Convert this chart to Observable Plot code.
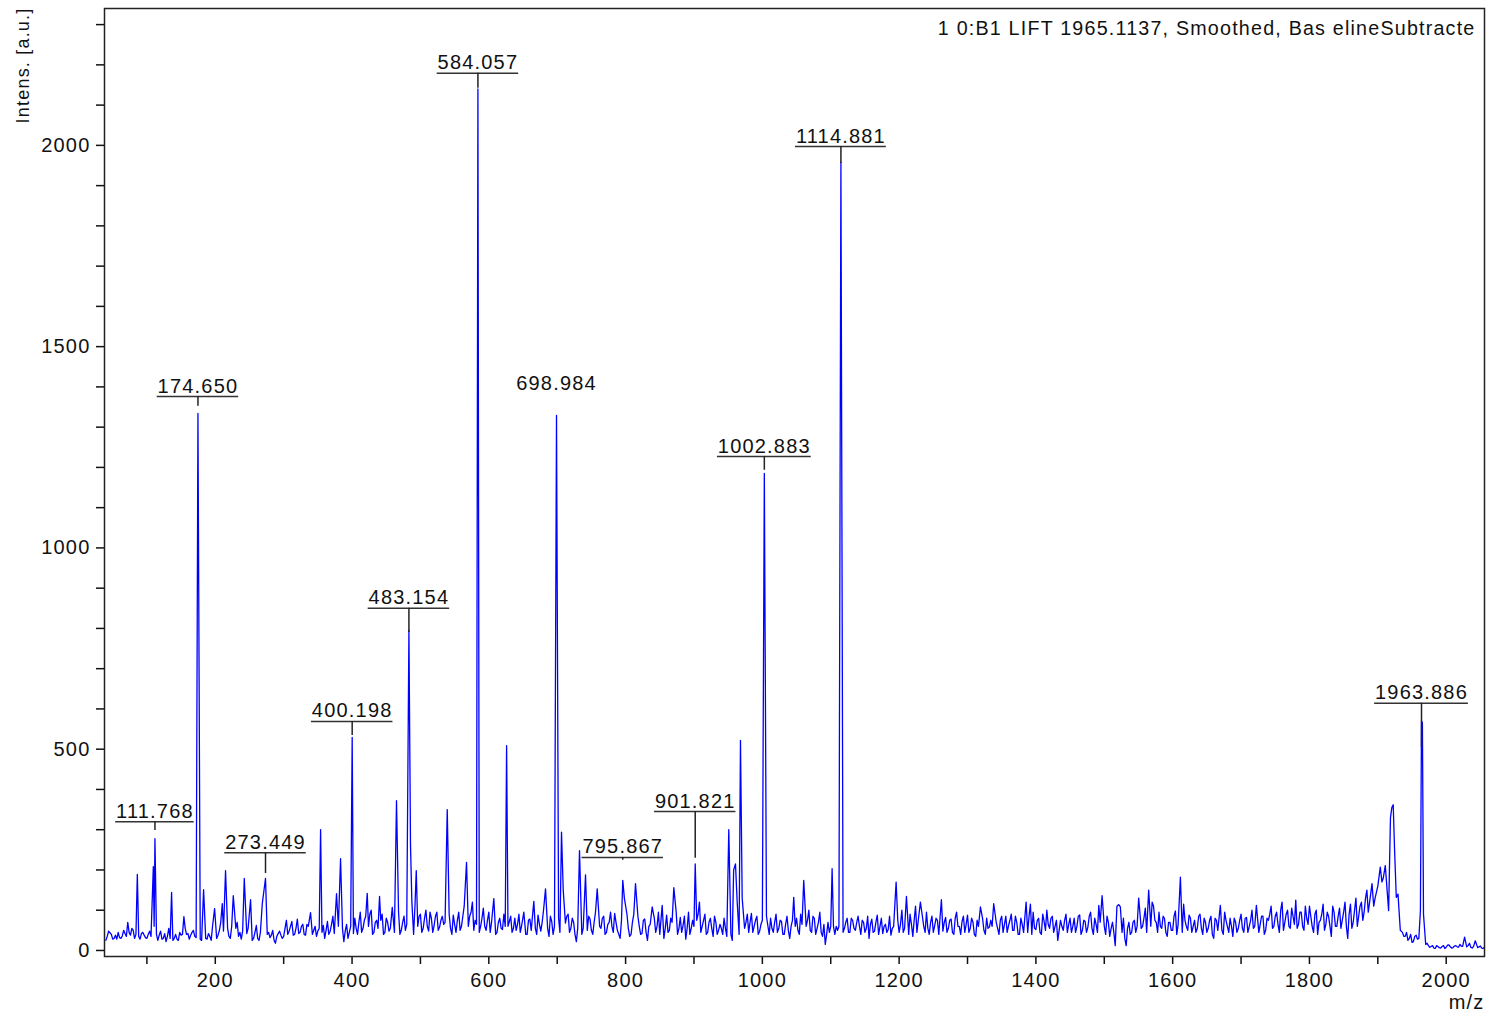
<!DOCTYPE html>
<html><head><meta charset="utf-8">
<script src="https://cdn.jsdelivr.net/npm/d3@7"></script>
<script src="https://cdn.jsdelivr.net/npm/@observablehq/plot@0.6"></script>
<style>body{margin:0;background:#fff;}</style>
</head><body><div id="chart"></div>
<script>
// ---- data ----
const titleText = "1 0:B1 LIFT 1965.1137, Smoothed, Bas elineSubtracte";
const yLabel = "Intens. [a.u.]";
const xLabel = "m/z";
const xDomain = [38, 2056];
const yDomain = [-15, 2340];
const xTicks = d3.range(100, 2001, 100);
const yTicks = d3.range(0, 2301, 100);

// baseline noise, read every 4 m/z starting at 40 ...
const baselineStartA = 40, baselineStep = 4;
const baselineA = [
 25,48,40,30,28,32,36,42,70,38,50,40,35,42,38,30,48,52,45,25,48,30,22,55,40,
 30,28,45,40,55,42,38,50,32,30,25,40,28,35,60,45,38,70,48,45,35,60,40,70,45,
 48,35,55,40,30,62,25,40,45,40,32,50,18,42,38,35,75,48,72,40,78,45,65,38,60,
 70,50,35,55,45,30,72,48,85,55,60,40,22,65,45,50,80,40,95,55,85,60,100,45,75,
 60,90,45,70,55,80,60,95,50,85,65,70,75,110,60,90,55,100,48,80,62,95,58,85,70,
 70,55,88,45,95,60,110,80,85,120,75,60,60,105,50,95,70,65,45,80,52,60,60,85,55,
 50,90,62,70,40,78,60,55,88,48,100,70,35,72,60,60,45,70,68,90,55,70,22,60,40,
 60,50,78,40,95,70,55,85,45,70,60,92,50,30,60,75,55,40,90,70,60,42,78,25,65,
 60,45,95,60,30,88,50,70,70,40,82,62,28,95,55,60,75,120,60,90,45,80,35,70,50,
 55,80,35,60,25,60,60,60,60,70,45,92,60,85,48,75,60,62,80,45,90,55,72,40,85,
 30,75,60,50,90,60,60,100,45,80,55,95,35,15,70,60,60,60,60,60,55,80,45,75,50,
 85,40,70,55,30,78,48,88,60,42,65,52,38,60,60,45,100,55,60,90,35,110,75,60,60,
 95,40,85,62,75,60,48,82,55,78,40,95,60,72,45,88,55,70,35,60,60,50,80,58,60,
 95,55,75,45,85,62,90,50,70,40,65,60,45,60,95,52,80,40,72,100,55,85,60,25,75,
 50,90,65,45,80,60,88,50,72,58,95,40,65,112,60,60,85,35,70,12,60,60,80,12,70,
 45,75,60,60,60,105,60,60,110,70,95,55,80,35,70,50,98,65,60,115,60,88,45,75,55,
 90,40,70,55,85,30,75,60,50,95,60,80,35,70,55,90,45,82,60,100,60,60,65,85,50,
 75,110,60,95,45,120,70,100,55,85,125,65,95,50,80,110,60,90,40,75,115,65,85,35,95,
 60,105,75,120,30,115,70,130,85,120,95,150,120,150,130,160,190,180,200,100,300,250,140,60,45,
 35,25,40,22,38,30,100,90,18,8,12,5,10,6,12,8,14,6,11,9,15,10,20,12,8,
 10,18,9,6,8
];
// ... and in between, every 4 m/z starting at 42
const baselineStartB = 42;
const baselineB = [
 35,44,28,38,45,30,50,35,45,55,30,38,28,45,32,40,35,30,40,38,28,42,35,30,25,
 40,25,38,30,40,28,45,35,40,28,35,30,42,25,38,30,50,35,40,55,30,42,55,35,28,
 30,42,35,25,45,30,45,28,30,45,38,25,35,48,30,55,40,60,38,55,42,60,40,65,45,
 40,60,48,35,62,50,40,65,42,70,35,55,48,30,60,42,55,70,45,75,50,90,40,70,55,
 75,40,80,48,90,45,75,40,70,50,85,60,40,70,85,45,80,60,95,45,85,50,75,65,45,
 90,40,65,75,50,85,45,60,95,50,65,45,80,60,75,45,90,40,70,55,90,40,72,45,80,
 65,45,80,40,75,50,85,40,65,70,45,55,85,40,50,80,60,40,85,45,80,40,55,75,55,
 40,85,50,70,45,60,80,40,65,95,45,70,40,75,45,90,35,70,50,85,40,75,45,60,40,
 80,60,40,75,55,45,80,40,95,55,45,85,55,40,75,40,90,45,75,40,70,55,85,40,65,
 40,55,65,40,60,45,40,40,55,90,70,45,75,40,65,45,85,40,55,70,45,75,40,65,50,
 60,45,80,40,65,45,75,50,85,40,70,45,65,40,45,85,40,50,75,45,70,45,80,55,70,
 60,75,45,85,65,45,70,40,80,60,45,85,55,40,75,65,45,80,40,65,75,45,40,85,45,
 55,70,45,80,40,85,70,45,75,45,80,60,40,85,65,45,80,40,75,45,80,40,55,75,45,
 70,40,85,65,45,75,50,85,40,80,45,75,85,40,55,75,45,90,50,65,80,45,75,50,60,
 75,45,80,60,45,85,40,75,45,85,55,80,45,70,85,40,70,55,45,40,75,45,30,55,40,
 70,45,85,55,80,45,85,50,75,45,60,85,45,70,50,85,40,80,45,75,50,80,60,45,85,
 55,80,45,75,40,80,50,85,40,75,45,60,80,45,75,55,80,45,75,55,80,45,85,40,80,
 90,55,85,65,100,50,90,60,105,65,55,95,60,110,65,85,45,100,70,90,50,95,60,110,60,
 85,55,95,60,90,55,100,60,110,75,130,95,140,110,145,120,170,150,130,180,260,200,100,45,35,
 45,30,20,35,28,45,40,15,12,10,6,12,7,10,5,13,9,7,12,8,11,14,9,18,6,
 12,7,11,5
];

// peaks (m/z, intensity)
const peakMz = [
 86.0,109.4,110.6,111.768,136.1,154.1,174.65,182.9,199,210.2,215,226.3,242.4,251.6,268.7,273.449,
 339.3,354,377.3,383.2,400.198,422.2,440.2,458.8,465,483.154,485.5,487.5,493.9,539.2,567.4,584.057,
 607.3,626,651.2,665.8,682.9,698.984,706.3,708.8,732.6,741.4,758.5,795.867,798.2,814.5,838.9,853.5,
 870.5,901.821,950.9,958,960.7,963.2,968,970.5,1002.883,1045.9,1060.5,1102,1114.881,1195.6,1210.7,
 1231.1,1261.8,1318.9,1338.3,1385.7,1392,1496.8,1518.5,1521.1,1523.5,1550.3,1564.9,1570,1611.3,
 1669.7,1722.4,1891.5,1903.6,1910.9,1915.8,1918.5,1920.5,1922.5,1924.5,1927,1929.5,1932.9,
 1962.3,1963.886,1965.2,1966.8,2026.9,2042.5
];
const peakIntensity = [
 189,208,60,278,144,84,1334,151,104,116,198,136,179,126,116,179,
 94,300,141,228,529,142,134,107,372,795,260,120,198,350,219,2140,
 129,509,95,122,153,1329,294,150,248,188,153,174,130,166,108,112,
 156,215,300,200,215,120,522,130,1185,132,174,203,1958,170,134,
 120,126,108,116,120,115,136,110,114,108,130,150,120,182,
 112,112,166,207,211,99,330,355,362,250,132,140,50,
 100,571,565,90,33,24
];

// peak annotations
const labelMz = [111.768,174.650,273.449,400.198,483.154,584.057,698.984,795.867,901.821,1002.883,1114.881,1963.886];
const labelText = ["111.768","174.650","273.449","400.198","483.154","584.057","698.984","795.867","901.821","1002.883","1114.881","1963.886"];
const labelLevel = [320,1376,243,569,850,2179,1382,231,345,1227,1997,614];
const labelTickEnd = [298,1352,191,534,790,2142,1382,224,229,1193,1955,504];
const labelUnderline = [true,true,true,true,true,true,false,true,true,true,true,true];

// ---- build ----
const W = 1488, H = 1016;
const mL = 104, mR = 4, mT = 8, mB = 60;
const LS = 1.2;
const FONT = "'Liberation Sans', Arial, Helvetica, sans-serif";

const peaks = peakMz.map((m, i) => ({mz: m, y: peakIntensity[i]}));
const baseRows = [
  ...baselineA.map((v, i) => ({mz: baselineStartA + i * baselineStep, y: v})),
  ...baselineB.map((v, i) => ({mz: baselineStartB + i * baselineStep, y: v}))
].filter(d => !peakMz.some(p => Math.abs(p - d.mz) < 1.8));
const spectrum = [...baseRows, ...peaks].sort((a, b) => a.mz - b.mz);

const xs = Plot.scale({x: {domain: xDomain, range: [mL, W - mR]}});
const ctx = document.createElement("canvas").getContext("2d");
ctx.font = "20px " + FONT;
const labels = labelMz.map((m, i) => {
  const t = labelText[i];
  const w = ctx.measureText(t).width + (t.length - 1) * LS;
  const px = xs.apply(m);
  return {mz: m, text: t, level: labelLevel[i], end: labelTickEnd[i], underline: labelUnderline[i],
          x1: xs.invert(px - w / 2 - 1), x2: xs.invert(px + w / 2 + 1)};
});
const lined = labels.filter(d => d.underline);

const chart = Plot.plot({
  width: W, height: H,
  marginLeft: mL, marginRight: mR, marginTop: mT, marginBottom: mB,
  style: {fontFamily: FONT, fontSize: "20px", letterSpacing: LS + "px", color: "#111", background: "#fff"},
  x: {domain: xDomain},
  y: {domain: yDomain},
  marks: [
    Plot.line(spectrum, {x: "mz", y: "y", stroke: "#0000ff", strokeWidth: 1.3}),
    Plot.axisX({ticks: xTicks, tickSize: 8, tickPadding: 8, strokeWidth: 1.5,
      tickFormat: d => d % 200 === 0 ? String(d) : "", label: null}),
    Plot.axisY({ticks: yTicks, tickSize: 8, tickPadding: 6, strokeWidth: 1.5,
      tickFormat: d => d % 500 === 0 ? String(d) : "", label: null}),
    Plot.frame({stroke: "#222", strokeWidth: 1.5}),
    Plot.ruleY(lined, {y: "level", x1: "x1", x2: "x2", stroke: "#333", strokeWidth: 1.5}),
    Plot.ruleX(lined, {x: "mz", y1: "level", y2: "end", stroke: "#222", strokeWidth: 1.5}),
    Plot.text(labels, {x: "mz", y: "level", text: "text", lineAnchor: "bottom", dy: -4, fill: "#111", fontSize: 20}),
    Plot.text([titleText], {frameAnchor: "top-right", textAnchor: "end", lineAnchor: "top", dx: -9, dy: 12, fontSize: 19.7, fill: "#111"}),
    Plot.text([yLabel], {frameAnchor: "top-left", rotate: -90, textAnchor: "end", lineAnchor: "middle", dx: -81, dy: -1, fontSize: 18, fill: "#111"}),
    Plot.text([xLabel], {frameAnchor: "bottom-right", textAnchor: "end", lineAnchor: "top", dx: 0, dy: 38, fontSize: 20, fill: "#111"})
  ]
});
document.getElementById("chart").appendChild(chart);
</script>
</body></html>
